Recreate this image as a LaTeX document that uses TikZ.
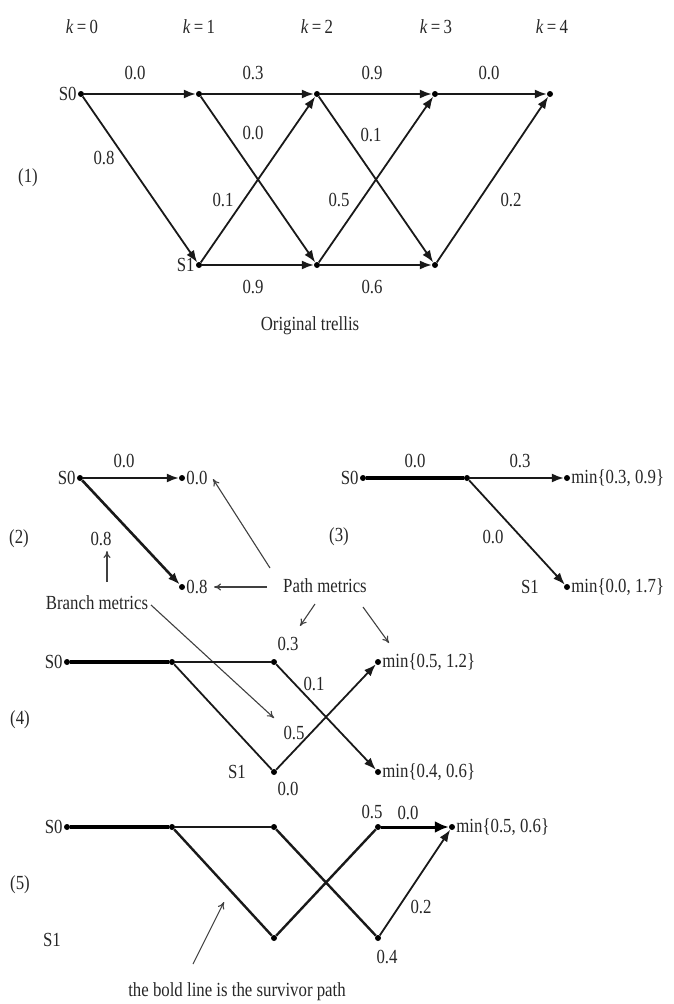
\documentclass[tikz,border=0pt]{standalone}
\usepackage{fontspec}
\setmainfont{Liberation Serif}[FakeStretch=0.84]
\usetikzlibrary{arrows.meta}
\newcommand{\lbfont}{\fontsize{20}{23}\selectfont}
\tikzset{
  st/.style={circle,fill=black,inner sep=0pt,minimum size=6pt},
  tr/.style={line width=1.8pt,draw=black!90},
  trb/.style={line width=4pt,draw=black},
  ar/.style={tr,-{Latex[length=12pt,width=9pt]}},
  arb/.style={line width=3pt,-{Latex[length=14pt,width=12pt]}},
  lb/.style={font=\lbfont,text=black!85,inner sep=1pt},
  note/.style={line width=1.1pt,draw=black!75,-{To[length=7pt,width=7pt]}},
}
\begin{document}
\begin{tikzpicture}[x=1pt,y=-1pt]
\useasboundingbox (0,0) rectangle (674,1004);

% ---------- (1) full trellis ----------
\foreach \x/\k in {82/0,199/1,317/2,436/3,552/4}
  \node[lb] (k\k) at (\x,27) {\textit{k}\,=\,\k};
\node[st] (a0) at (81,94) {};
\node[st] (a1) at (199,94) {};
\node[st] (a2) at (317,94) {};
\node[st] (a3) at (435,94) {};
\node[st] (a4) at (550,94) {};
\node[st] (b1) at (199,265) {};
\node[st] (b2) at (317,265) {};
\node[st] (b3) at (435,265) {};
\node[lb,anchor=east] (s0a) at (a0.west) {S0};
\node[lb,anchor=east] (s1a) at (b1.west) {S1};
\draw[ar] (a0) -- (a1);
\draw[ar] (a0) -- (b1);
\draw[ar] (a1) -- (a2);
\draw[ar] (a1) -- (b2);
\draw[ar] (b1) -- (a2);
\draw[ar] (b1) -- (b2);
\draw[ar] (a2) -- (a3);
\draw[ar] (a2) -- (b3);
\draw[ar] (b2) -- (a3);
\draw[ar] (b2) -- (b3);
\draw[ar] (a3) -- (a4);
\draw[ar] (b3) -- (a4);
\node[lb] (w1) at (135,73) {0.0};
\node[lb] (w2) at (253,73) {0.3};
\node[lb] (w3) at (372,73) {0.9};
\node[lb] (w4) at (489,73) {0.0};
\node[lb] (w5) at (104,158) {0.8};
\node[lb] (w6) at (253,133) {0.0};
\node[lb] (w7) at (371,135) {0.1};
\node[lb] (w8) at (223,200) {0.1};
\node[lb] (w9) at (339,200) {0.5};
\node[lb] (w10) at (511,200) {0.2};
\node[lb] (w11) at (253,287) {0.9};
\node[lb] (w12) at (372,287) {0.6};
\node[lb] (cap1) at (310,326) {Original trellis};
\node[lb] (n1) at (28,178) {(1)};

% ---------- (2) first step ----------
\node[st] (p0) at (80,478) {};
\node[st] (p1) at (182,478) {};
\node[st] (p2) at (182,587) {};
\node[lb,anchor=east] (s0b) at (p0.west) {S0};
\draw[ar] (p0) -- (p1);
\draw[ar,line width=2.6pt] (p0) -- (p2);
\node[lb,anchor=west] (m1) at (p1.east) {0.0};
\node[lb,anchor=west] (m2) at (p2.east) {0.8};
\node[lb] (v1) at (124,461) {0.0};
\node[lb] (v2) at (101,539) {0.8};
\node[lb] (n2) at (19,539) {(2)};

% annotations
\node[lb] (bm) at (97,603) {Branch metrics};
\node[lb] (pm) at (325,586) {Path metrics};
\coordinate (bmup) at (107,551);
\coordinate (bmdn) at (274,718);
\coordinate (pmA) at (213,479);
\coordinate (pmB) at (214,587);
\coordinate (pmC) at (300,626);
\coordinate (pmD) at (389,643);
\draw[note] (107,582) -- (bmup);
\draw[note] (151,605) -- (bmdn);
\draw[note] (270,568) -- (pmA);
\draw[note] (267,587) -- (pmB);
\draw[note] (315,604) -- (pmC);
\draw[note] (363,607) -- (pmD);

% ---------- (3) second step ----------
\node[st] (q0) at (363,478) {};
\node[st] (q1) at (467,478) {};
\node[st] (q2) at (567,478) {};
\node[st] (q3) at (567,587) {};
\node[lb,anchor=east] (s0c) at (q0.west) {S0};
\node[lb] (s1c) at (530,587) {S1};
\draw[trb] (q0) -- (q1);
\draw[ar] (q1) -- (q2);
\draw[ar] (q1) -- (q3);
\node[lb] (u1) at (415,461) {0.0};
\node[lb] (u2) at (520,461) {0.3};
\node[lb] (u3) at (493,537) {0.0};
\node[lb,anchor=west] (mq1) at (q2.east) {min\{0.3, 0.9\}};
\node[lb,anchor=west] (mq2) at (q3.east) {min\{0.0, 1.7\}};
\node[lb] (n3) at (339,537) {(3)};

% ---------- (4) third step ----------
\node[st] (r0) at (67,662) {};
\node[st] (r1) at (172,662) {};
\node[st] (r2) at (274,662) {};
\node[st] (r3) at (274,772) {};
\node[st] (r4) at (378,662) {};
\node[st] (r5) at (378,772) {};
\node[lb,anchor=east] (s0d) at (r0.west) {S0};
\node[lb] (s1d) at (237,772) {S1};
\draw[trb] (r0) -- (r1);
\draw[tr] (r1) -- (r2);
\draw[tr] (r1) -- (r3);
\draw[ar] (r2) -- (r5);
\draw[ar] (r3) -- (r4);
\node[lb] (t1) at (288,644) {0.3};
\node[lb] (t2) at (314,684) {0.1};
\node[lb] (t3) at (294,733) {0.5};
\node[lb] (t4) at (288,789) {0.0};
\node[lb,anchor=west] (mr1) at (r4.east) {min\{0.5, 1.2\}};
\node[lb,anchor=west] (mr2) at (r5.east) {min\{0.4, 0.6\}};
\node[lb] (n4) at (20,720) {(4)};

% ---------- (5) survivor ----------
\node[st] (x0) at (67,827) {};
\node[st] (x1) at (172,827) {};
\node[st] (x2) at (274,827) {};
\node[st] (x3) at (274,938) {};
\node[st] (x4) at (378,827) {};
\node[st] (x5) at (378,938) {};
\node[st] (x6) at (452,827) {};
\node[lb,anchor=east] (s0e) at (x0.west) {S0};
\node[lb] (s1e) at (52,940) {S1};
\draw[trb] (x0) -- (x1);
\draw[tr] (x1) -- (x2);
\draw[tr,line width=2.4pt] (x1) -- (x3);
\draw[tr,line width=2.4pt] (x2) -- (x5);
\draw[tr,line width=2.4pt] (x3) -- (x4);
\draw[arb] (x4) -- (x6);
\draw[ar] (x5) -- (x6);
\node[lb] (y1) at (372,812) {0.5};
\node[lb] (y2) at (408,813) {0.0};
\node[lb] (y3) at (421,907) {0.2};
\node[lb] (y4) at (387,957) {0.4};
\node[lb,anchor=west] (mx) at (x6.east) {min\{0.5, 0.6\}};
\node[lb] (n5) at (20,885) {(5)};
\node[lb] (sv) at (237,992) {the bold line is the survivor path};
\coordinate (svtip) at (224,902);
\draw[note] (193,964) -- (svtip);
\end{tikzpicture}
\end{document}
